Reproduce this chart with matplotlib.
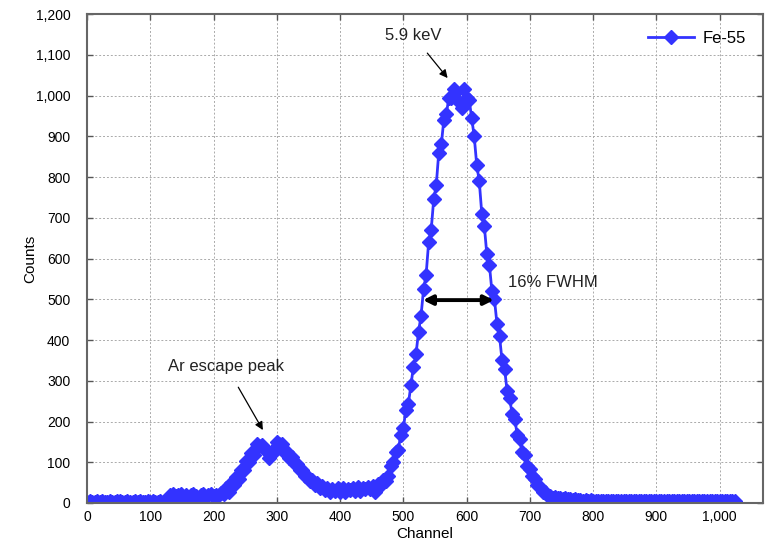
import numpy as np
import matplotlib
matplotlib.use("Agg")
import matplotlib.pyplot as plt
from matplotlib.ticker import FuncFormatter, MultipleLocator

plt.rcParams['font.family'] = ['Liberation Sans', 'DejaVu Sans']

# spectrum, one value every 4 channels (0..1024)
channels = np.arange(0, 1025, 4)
counts = [
    3, 4, 3, 3, 4, 3, 4, 3, 3, 4, 3, 3, 4, 4, 3, 3,
    4, 3, 3, 4, 3, 4, 3, 3, 4, 3, 4, 3, 3, 4, 3, 4,
    12, 20, 22, 16, 19, 22, 15, 20, 14, 19, 21, 16, 13, 20, 22, 15,
    19, 23, 16, 20, 20, 25, 22, 36, 28, 48, 44, 64, 60, 82, 80, 102,
    100, 122, 118, 146, 140, 142, 134, 126, 110, 128, 124, 150, 146, 146, 126, 126,
    110, 112, 96, 96, 80, 80, 66, 66, 54, 56, 44, 48, 36, 42, 32, 38,
    28, 34, 30, 36, 27, 36, 26, 35, 31, 36, 29, 39, 30, 37, 35, 40,
    34, 42, 28, 46, 44, 56, 54, 66, 92, 100, 124, 130, 168, 184, 228, 244,
    290, 335, 365, 420, 460, 525, 560, 640, 670, 745, 780, 860, 880, 940, 955, 995,
    995, 1015, 1010, 985, 970, 1015, 995, 990, 945, 900, 830, 790, 710, 680, 610, 585,
    520, 500, 440, 410, 350, 330, 275, 258, 218, 207, 168, 156, 124, 117, 90, 84,
    66, 58, 44, 40, 28, 26, 18, 17, 13, 14, 11, 13, 10, 11, 9, 10,
    8, 9, 7, 8, 6, 8, 5, 7, 6, 5, 6, 6, 4, 6, 5, 6,
    5, 5, 4, 5, 5, 5, 4, 5, 5, 4, 5, 5, 4, 5, 5, 5,
    4, 5, 5, 4, 5, 4, 5, 5, 4, 5, 4, 4, 5, 4, 5, 4,
    4, 5, 4, 4, 5, 4, 4, 5, 4, 4, 5, 4, 4, 5, 4, 4,
    4,
]

blue = '#3333ff'

fig = plt.figure(figsize=(7.65, 5.43), dpi=100)
ax = fig.add_axes([0.1137, 0.0737, 0.8833, 0.9003])

ax.plot(channels, counts, '-', color=blue, lw=2, marker='D', markersize=7,
        markeredgewidth=1, markeredgecolor=blue, markerfacecolor=blue, label='Fe-55')

ax.set_xlim(0, 1068)
ax.set_ylim(0, 1200)
ax.xaxis.set_major_locator(MultipleLocator(100))
ax.yaxis.set_major_locator(MultipleLocator(100))
fmt = FuncFormatter(lambda v, p: '{:,.0f}'.format(v))
ax.xaxis.set_major_formatter(fmt)
ax.yaxis.set_major_formatter(fmt)
ax.tick_params(direction='in', top=True, right=True, length=4, width=1,
               color='#555555', labelsize=10)
ax.tick_params(axis='y', pad=12)
ax.tick_params(axis='x', pad=5)
ax.grid(True, color='#aaaaaa', linestyle=(0, (2, 2)), linewidth=0.7)
for sp in ax.spines.values():
    sp.set_color('#666666')
    sp.set_linewidth(1.5)

ax.set_xlabel('Channel', fontsize=11, labelpad=2)
ax.set_ylabel('Counts', fontsize=11, labelpad=-1)

# annotations
ax.annotate('5.9 keV', xy=(570, 1043), xytext=(515, 1148), ha='center', va='center',
            fontsize=12, color='#222222',
            arrowprops=dict(arrowstyle='-|>', color='black', lw=0.9,
                            mutation_scale=12, shrinkA=7, shrinkB=0))
ax.annotate('Ar escape peak', xy=(278, 179), xytext=(220, 336), ha='center', va='center',
            fontsize=12, color='#222222',
            arrowprops=dict(arrowstyle='-|>', color='black', lw=0.9,
                            mutation_scale=12, shrinkA=9, shrinkB=0))
ax.annotate('', xy=(531, 498), xytext=(643, 498),
            arrowprops=dict(arrowstyle='<|-|>', color='black', lw=2.8,
                            mutation_scale=14, shrinkA=0, shrinkB=0))
ax.text(665, 540, '16% FWHM', fontsize=12, color='#222222', ha='left', va='center')

leg = ax.legend(loc='upper right', frameon=False, fontsize=12, handlelength=2.8,
                borderaxespad=0.6, handletextpad=0.5)

fig.savefig('out.png', dpi=100)
